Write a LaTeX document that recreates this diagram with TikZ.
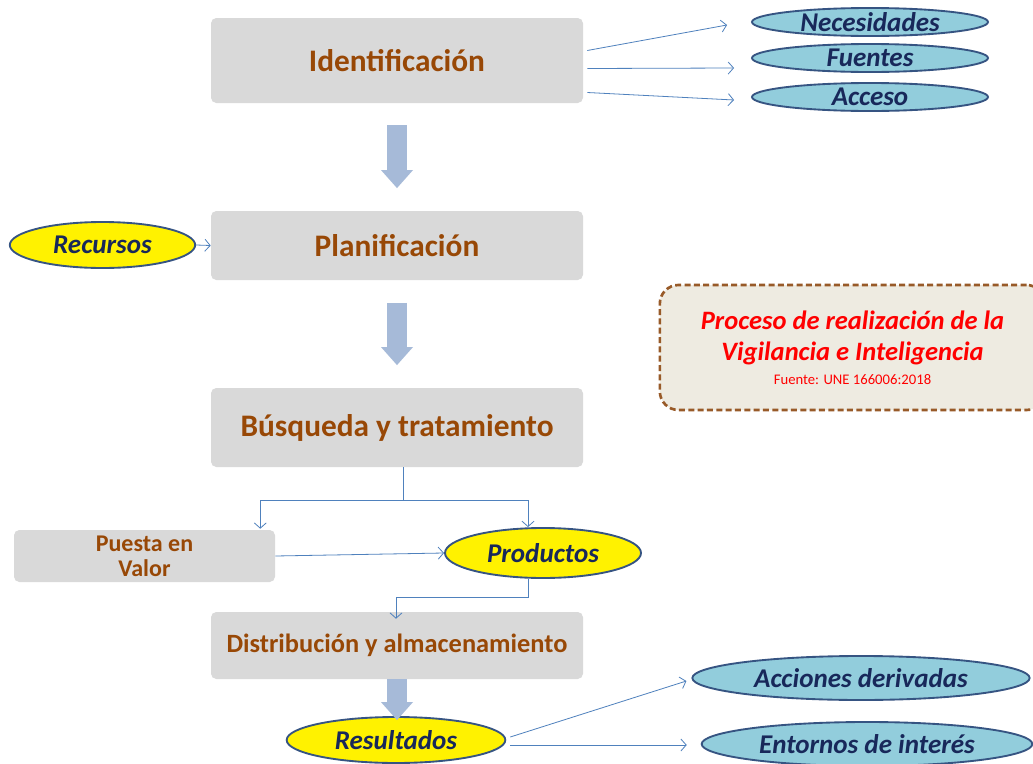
\documentclass[tikz,border=0pt]{standalone}
\usepackage{fontspec}
\setmainfont{Carlito}
\usetikzlibrary{shapes.geometric,arrows.meta,calc}
\definecolor{boxgray}{RGB}{217,217,217}
\definecolor{brownt}{RGB}{152,72,6}
\definecolor{lblue}{RGB}{146,205,220}
\definecolor{navyt}{RGB}{24,40,90}
\definecolor{edgec}{RGB}{54,84,130}
\definecolor{connc}{RGB}{79,129,189}
\definecolor{fatc}{RGB}{166,186,216}
\definecolor{notefill}{RGB}{238,235,225}
\definecolor{notedraw}{RGB}{152,90,40}
\begin{document}
\begin{tikzpicture}[x=0.75pt,y=-0.75pt,
 stepbox/.style={rectangle, rounded corners=4pt, fill=boxgray, text=brownt, font=\bfseries\fontsize{23.5}{26}\selectfont, inner sep=0pt},
 blueell/.style={ellipse, draw=edgec, line width=1.4pt, fill=lblue, text=navyt, font=\bfseries\itshape\fontsize{20.3}{22}\selectfont, inner sep=0pt},
 yellowell/.style={blueell, fill=yellow},
 conn/.style={draw=connc, line width=0.6pt, -{Straight Barb[length=4pt,width=9pt]}},
 connline/.style={draw=connc, line width=0.6pt},
 fatarrow/.style={draw=fatc, line width=15pt, -{Triangle[length=13.5pt,width=24pt,line width=0pt]}},
 notebox/.style={rectangle, rounded corners=14pt, fill=notefill, draw=notedraw, line width=2pt, dash pattern=on 4.5pt off 2.5pt, inner sep=0pt}]
\clip (0,0) rectangle (1033,764);
\fill[white] (0,0) rectangle (1033,764);

% main steps
\node[stepbox, minimum width=279pt, minimum height=63.75pt] (ident) at (397,60.5) {Identificación};
\node[stepbox, minimum width=279pt, minimum height=51.75pt] (plan) at (397,245.5) {Planificación};
\node[stepbox, minimum width=279pt, minimum height=59.25pt] (busq) at (397,427.5) {Búsqueda y tratamiento};
\node[stepbox, minimum width=195.75pt, minimum height=39pt, align=center, font=\bfseries\fontsize{18}{19}\selectfont] (puesta) at (144.5,556) {Puesta en\\Valor};
\node[stepbox, minimum width=279pt, minimum height=50.25pt, font=\bfseries\fontsize{19.8}{22}\selectfont] (dist) at (397,645.5) {Distribución y almacenamiento};

% ellipses
\node[blueell, minimum width=177pt, minimum height=21pt] (nec) at (870,22) {Necesidades};
\node[blueell, minimum width=177pt, minimum height=21pt] (fue) at (870,58) {Fuentes};
\node[blueell, minimum width=177pt, minimum height=21pt] (acc) at (870,97) {Acceso};
\node[yellowell, minimum width=139pt, minimum height=34.5pt] (rec) at (102.5,245) {Recursos};
\node[yellowell, minimum width=147pt, minimum height=37.5pt] (prod) at (543,553) {Productos};
\node[yellowell, minimum width=164pt, minimum height=34.5pt] (res) at (396,740) {Resultados};
\node[blueell, minimum width=253pt, minimum height=33pt] (accder) at (861,678) {Acciones derivadas};
\node[blueell, minimum width=248pt, minimum height=33pt] (ent) at (867,744) {Entornos de interés};

% note
\node[notebox, minimum width=289pt, minimum height=93.75pt, align=center, text=red,
  font=\bfseries\itshape\fontsize{19.9}{23.25}\selectfont] (note) at (852.5,347.5)
  {Proceso de realización de la\\Vigilancia e Inteligencia\\[-5.5pt]{\mdseries\upshape\fontsize{11}{12}\selectfont Fuente: UNE 166006:2018}};

% fat arrows
\draw[fatarrow, shorten <=16.5pt, shorten >=17pt] (ident.south) -- (plan.north);
\draw[fatarrow, shorten <=17pt, shorten >=17pt] (plan.south) -- (busq.north);
\draw[fatarrow, shorten >=-3pt] (dist.south) -- (dist.south |- res.north);

% thin connectors
\draw[conn] ($(ident.east)+(4,-10)$) -- ($(nec.west)+(-24,3)$);
\draw[conn] ($(ident.east)+(4,8)$) -- ($(fue.west)+(-17,10)$);
\draw[conn] ($(ident.east)+(4,32)$) -- ($(acc.west)+(-17,3)$);
\draw[conn] (rec.east) -- (plan.west);
\coordinate (split) at (403,500);
\draw[connline] (split |- busq.south) -- (split);
\draw[conn] (split) -| ($(puesta.north east)+(-15,-1)$);
\draw[conn] (split) -| ($(prod.north)+(-15,0)$);
\draw[conn] (puesta.east) -- (prod.west);
\draw[conn] ($(prod.south)+(-15,0)$) -- ++(0,18) -| ($(dist.north)+(-1,7)$);
\draw[conn] ($(res.east)+(4,-3)$) -- ($(accder.west)+(-5,3)$);
\draw[conn] ($(res.east)+(4,5)$) -- ($(ent.west)+(-14,1)$);
\end{tikzpicture}
\end{document}
